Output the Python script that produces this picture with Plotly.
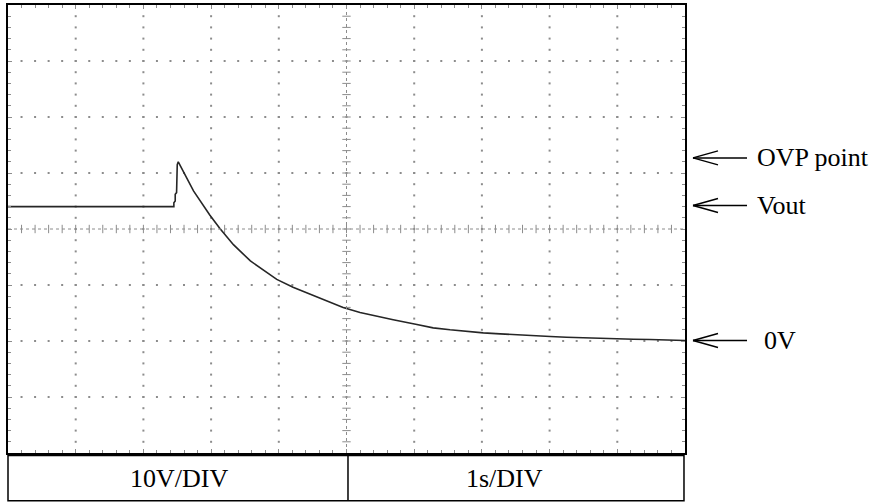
import numpy as np
import plotly.graph_objects as go

# ---- data ----
time_s = [0.0, 2.45, 2.45, 2.47, 2.47, 2.49, 2.50, 2.515, 2.74, 2.98, 3.13, 3.33,
          3.58, 3.72, 3.82, 3.97, 4.21, 4.46, 4.71, 4.95, 5.20, 5.45, 5.69, 6.04,
          6.28, 6.53, 6.78, 7.02, 7.27, 7.51, 7.76, 8.01, 8.25, 8.50, 8.74, 8.99,
          9.24, 9.48, 9.73, 9.95, 10.0]
volts = [24.0, 24.0, 24.7, 25.0, 26.2, 26.5, 31.5, 32.0, 26.8, 22.5, 20.1, 17.2,
         14.3, 13.1, 12.2, 11.0, 9.6, 8.4, 7.2, 6.0, 5.1, 4.4, 3.8, 2.95,
         2.35, 2.0, 1.7, 1.45, 1.28, 1.1, 0.92, 0.8, 0.68, 0.57, 0.5, 0.39,
         0.32, 0.27, 0.21, 0.1, 0.08]

marker_labels = ["OVP point", "Vout", "0V"]
marker_levels = [32.7, 24.2, 0.1]
marker_text_offset = [0, 0, 7]

table_labels = ["10V/DIV", "1s/DIV"]

# screen geometry (divisions)
S_PER_DIV = 1
V_PER_DIV = 10
X_DIVS = 10
Y_DIVS = 8
V_MIN = -20
X_MIN = 0

x_max = X_MIN + X_DIVS * S_PER_DIV
v_max = V_MIN + Y_DIVS * V_PER_DIV
x_center = X_MIN + X_DIVS * S_PER_DIV / 2
v_center = V_MIN + Y_DIVS * V_PER_DIV / 2
x_minor = np.round(np.arange(X_MIN, x_max + 1e-9, S_PER_DIV / 5), 6)[1:-1]
v_minor = np.round(np.arange(V_MIN, v_max + 1e-9, V_PER_DIV / 5), 6)[1:-1]
x_major = [X_MIN + i * S_PER_DIV for i in range(1, X_DIVS) if X_MIN + i * S_PER_DIV != x_center]
v_major = [V_MIN + i * V_PER_DIV for i in range(1, Y_DIVS) if V_MIN + i * V_PER_DIV != v_center]

GRID = "#8c8c8c"
fig = go.Figure()

# dotted major graticule
gx, gy = [], []
for xm in x_major:
    gx += list(np.full(len(v_minor), xm)); gy += list(v_minor)
for vm in v_major:
    gx += list(x_minor); gy += list(np.full(len(x_minor), vm))
fig.add_trace(go.Scatter(x=gx, y=gy, mode="markers", hoverinfo="skip",
                         marker=dict(symbol="square", size=2, color=GRID)))

# center lines with tick marks
fig.add_shape(type="line", x0=X_MIN, x1=x_max, y0=v_center, y1=v_center,
              line=dict(color=GRID, width=1, dash="dot"))
fig.add_shape(type="line", x0=x_center, x1=x_center, y0=V_MIN, y1=v_max,
              line=dict(color=GRID, width=1, dash="dot"))
fig.add_trace(go.Scatter(x=x_minor, y=np.full(len(x_minor), v_center), mode="markers",
                         hoverinfo="skip",
                         marker=dict(symbol="line-ns", size=6, line=dict(width=1, color=GRID))))
fig.add_trace(go.Scatter(x=np.full(len(v_minor), x_center), y=v_minor, mode="markers",
                         hoverinfo="skip",
                         marker=dict(symbol="line-ew", size=6, line=dict(width=1, color=GRID))))

# trace
fig.add_trace(go.Scatter(x=time_s, y=volts, mode="lines", hoverinfo="skip",
                         line=dict(color="#262626", width=1.6)))

# arrows and labels on the right
ARROW_TIP = 1.0118
ARROW_TAIL = 1.0916
TEXT_X = 1.1034
for label, lvl, off in zip(marker_labels, marker_levels, marker_text_offset):
    fig.add_shape(type="line", xref="paper", yref="y", x0=ARROW_TIP, x1=ARROW_TAIL,
                  y0=lvl, y1=lvl, line=dict(color="black", width=1.5))
    for sgn in (1, -1):
        fig.add_shape(type="line", xref="paper", yref="y",
                      xsizemode="pixel", xanchor=ARROW_TIP, x0=0, x1=25,
                      ysizemode="pixel", yanchor=lvl, y0=0, y1=7 * sgn,
                      line=dict(color="black", width=1.5))
    fig.add_annotation(xref="paper", yref="y", x=TEXT_X, y=lvl, xshift=off,
                       text=label, showarrow=False, xanchor="left", yanchor="middle",
                       font=dict(family="Liberation Serif", size=26, color="black"))

# settings table under the screen
T_TOP, T_BOT, T_RIGHT, T_DIV = -0.0055, -0.1067, 0.9985, 0.5022
fig.add_shape(type="rect", xref="paper", yref="paper", x0=0, x1=T_RIGHT, y0=T_BOT, y1=T_TOP,
              line=dict(color="black", width=1.5))
fig.add_shape(type="line", xref="paper", yref="paper", x0=T_DIV, x1=T_DIV, y0=T_BOT, y1=T_TOP,
              line=dict(color="black", width=1.5))
for lab, cx in zip(table_labels, [0.2526, 0.734]):
    fig.add_annotation(xref="paper", yref="paper", x=cx, y=(T_TOP + T_BOT) / 2,
                       text=lab, showarrow=False, xanchor="center", yanchor="middle",
                       font=dict(family="Liberation Serif", size=26, color="black"))

axis_common = dict(showgrid=False, zeroline=False, showticklabels=False,
                   showline=True, linecolor="black", linewidth=2, mirror="ticks",
                   ticks="inside", ticklen=4, tickwidth=1, tickcolor=GRID)
fig.update_xaxes(range=[X_MIN, x_max], tick0=X_MIN, dtick=S_PER_DIV,
                 minor=dict(ticks="inside", dtick=S_PER_DIV / 5, ticklen=3, tickcolor=GRID),
                 **axis_common)
fig.update_yaxes(range=[V_MIN, v_max], tick0=V_MIN, dtick=V_PER_DIV,
                 minor=dict(ticks="inside", dtick=V_PER_DIV / 5, ticklen=3, tickcolor=GRID),
                 **axis_common)

fig.update_layout(width=877, height=504, showlegend=False,
                  margin=dict(l=8, r=192, t=3, b=51),
                  plot_bgcolor="white", paper_bgcolor="white")

fig.write_html("out.html", config={"displayModeBar": False, "staticPlot": True},
               post_script="document.body.style.margin='0px';document.body.style.overflow='hidden';")
